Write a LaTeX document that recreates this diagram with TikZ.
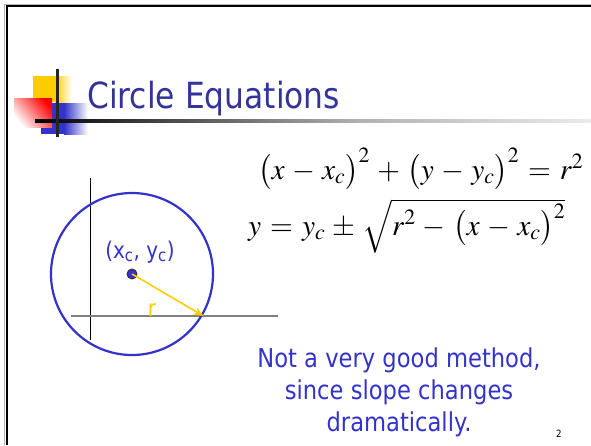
\documentclass[tikz,border=0pt]{standalone}
\usepackage{amsmath}
\usepackage{mathptmx}
\usepackage{fontspec}
\usetikzlibrary{arrows.meta}
\newfontfamily\tah[FakeStretch=0.87]{DejaVu Sans}
\definecolor{titleblue}{HTML}{333399}
\definecolor{txtblue}{HTML}{3333CC}
\definecolor{ppyellow}{HTML}{FFCC00}
\definecolor{ppred}{HTML}{FF0000}
\definecolor{linegray}{HTML}{808080}
\newcommand{\wideops}{\medmuskip=4.5mu plus 2mu\thickmuskip=5.5mu plus 2mu}
\tikzset{
  title/.style={font=\tah\fontsize{36}{40}\selectfont, text=titleblue, inner sep=0pt},
  body/.style={font=\tah\fontsize{26}{32}\selectfont, text=txtblue, align=center, inner sep=0pt},
  lbl/.style={font=\tah\fontsize{23}{26}\selectfont, inner sep=0pt},
  eq/.style={inner sep=0pt, font=\fontsize{36}{40}\selectfont},
  axisline/.style={line width=1pt},
  baseline/.style={line width=1.4pt, draw=linegray},
}
\begin{document}
\begin{tikzpicture}[x=1pt,y=-1pt]
\useasboundingbox (0,0) rectangle (591,445);
% frame
\draw[line width=0.8pt, gray!60] (4.8,445) -- (4.8,4.3) -- (591,4.3);
\draw[line width=2.6pt, black] (7,445) -- (7,6) -- (591,6);
% logo
\fill[ppyellow] (33,76) rectangle (55,102);
\shade[left color=ppyellow, right color=white] (55,76) rectangle (72,102);
\fill[txtblue] (41,103) rectangle (64,134);
\shade[left color=txtblue, right color=white] (64,103) rectangle (88,134);
\shade[bottom color=white, top color=ppred, shading angle=-50] (14,98) rectangle (52,127);
\shade[left color=black, right color=black!30] (35,119.8) rectangle (360,122.2);
\shade[left color=black!30, right color=black!8] (360,119.8) rectangle (591,122.2);
\fill[black!85] (55.5,69) rectangle (58.5,137);
% title
\node[title, anchor=base west] (t) at (87,108) {Circle Equations};
% equations
\node[eq, anchor=base west] (e1) at (258,179) {\resizebox{325pt}{!}{$\wideops\bigl(x-x_c\bigr)^2+\bigl(y-y_c\bigr)^2=r^2$}};
\node[eq, anchor=base west] (e2) at (248,235) {\resizebox{317pt}{!}{$\wideops y=y_c\pm\sqrt{\vphantom{\bigl(}\smash[t]{r^2-\bigl(x-x_c\bigr)^2}}$}};
% diagram
\draw[axisline] (90,178) -- (90,340);
\draw[baseline] (71,316) -- (278,316);
\node[circle, draw=txtblue, line width=2.2pt, minimum size=162pt, inner sep=0pt] (circ) at (132,274) {};
\coordinate (p) at (203.5,316);
\node[circle, fill=txtblue, draw=black!80, line width=0.9pt, minimum size=10pt, inner sep=0pt] (c) at (132,274) {};
\draw[ppyellow, line width=1.6pt, -{Stealth[length=10pt,width=8pt]}] (c.center) -- (p);
\node[lbl, text=txtblue] (cl) at (140,252) {(x\textsubscript{c}, y\textsubscript{c})};
\node[lbl, text=ppyellow] (rl) at (152,310) {r};
% bottom text
\node[body] (note) at (399,392) {Not a very good method,\\since slope changes\\dramatically.};
\node[font=\tah\fontsize{10}{12}\selectfont, inner sep=0pt] (pg) at (559,434) {2};
\end{tikzpicture}
\end{document}
